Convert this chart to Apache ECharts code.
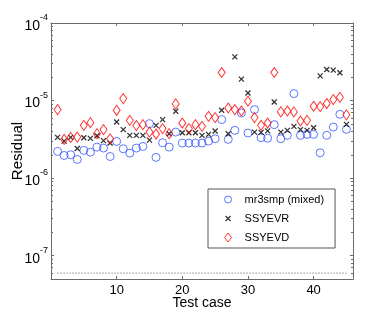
<!DOCTYPE html>
<html><head><meta charset="utf-8">
<script src="https://cdn.jsdelivr.net/npm/echarts@6/dist/echarts.min.js"></script>
<style>html,body{margin:0;padding:0;background:#fff}#c{width:390px;height:314px}</style>
</head><body><div id="c"></div>
<script>
const testCases = [1,2,3,4,5,6,7,8,9,10,11,12,13,14,15,16,17,18,19,20,21,22,23,24,25,26,27,28,29,30,31,32,33,34,35,36,37,38,39,40,41,42,43,44,45];
const mr3smp = [2.21e-6,1.96e-6,2.00e-6,1.74e-6,2.28e-6,2.16e-6,2.51e-6,2.44e-6,1.90e-6,2.97e-6,
  2.39e-6,2.10e-6,2.44e-6,2.56e-6,5.04e-6,1.85e-6,2.86e-6,2.51e-6,3.92e-6,2.83e-6,
  2.83e-6,2.83e-6,2.83e-6,3.00e-6,3.22e-6,5.68e-6,3.16e-6,4.13e-6,6.91e-6,3.81e-6,
  7.65e-6,3.32e-6,3.27e-6,4.89e-6,3.22e-6,3.56e-6,1.23e-5,3.56e-6,3.66e-6,3.66e-6,
  2.12e-6,3.56e-6,4.55e-6,6.65e-6,4.25e-6];
const ssyevr = [3.35e-6,3.00e-6,3.35e-6,2.41e-6,3.31e-6,3.25e-6,3.51e-6,3.04e-6,2.83e-6,5.29e-6,
  4.22e-6,3.56e-6,3.56e-6,3.56e-6,3.09e-6,4.79e-6,5.68e-6,3.74e-6,7.27e-6,3.85e-6,
  3.85e-6,3.85e-6,3.56e-6,3.66e-6,4.04e-6,7.49e-6,3.74e-6,3.66e-5,1.89e-5,1.25e-5,
  3.92e-6,3.89e-6,4.06e-6,9.59e-6,3.92e-6,4.13e-6,4.65e-6,4.22e-6,4.13e-6,4.47e-6,
  2.08e-5,2.52e-5,2.47e-5,2.28e-5,4.93e-6];
const ssyevd = [7.65e-6,3.16e-6,3.35e-6,3.38e-6,4.79e-6,5.19e-6,3.74e-6,4.22e-6,3.21e-6,7.49e-6,
  1.06e-5,5.56e-6,4.75e-6,4.89e-6,3.92e-6,3.70e-6,4.35e-6,3.74e-6,9.04e-6,5.13e-6,
  4.35e-6,4.89e-6,4.65e-6,6.26e-6,6.03e-6,2.30e-5,8.02e-6,7.65e-6,7.33e-6,9.79e-6,
  6.03e-6,4.79e-6,5.13e-6,2.30e-5,7.13e-6,7.33e-6,7.13e-6,5.45e-6,5.56e-6,8.44e-6,
  8.36e-6,9.15e-6,1.03e-5,1.10e-5,6.55e-6];
const epsLevel = 5.96e-8;
const epsRange = [1, 45];
const xTicks = [10, 20, 30, 40];
const yMajor = [1e-7, 1e-6, 1e-5, 1e-4];
const yMinor = [5e-8,6e-8,7e-8,8e-8,9e-8,
  2e-7,3e-7,4e-7,5e-7,6e-7,7e-7,8e-7,9e-7,
  2e-6,3e-6,4e-6,5e-6,6e-6,7e-6,8e-6,9e-6,
  2e-5,3e-5,4e-5,5e-5,6e-5,7e-5,8e-5,9e-5];
const seriesNames = ['mr3smp (mixed)', 'SSYEVR', 'SSYEVD'];

const FONT = "'Liberation Sans', Arial, Helvetica, sans-serif";
const AX = '#6a6a6a';
const CROSS = 'path://M0,0L10,10M10,0L0,10';
const CROSS_LEGEND = 'path://M0,0M7,9M1,2L6,7M6,2L1,7';
const chart = echarts.init(document.getElementById('c'), null, {renderer: 'canvas'});
const pts = arr => testCases.map((x, i) => [x, arr[i]]);

function yAx(position, ticks, len, showLine, showLabel) {
  return {
    type: 'log', logBase: 10, min: 5e-8, max: 1e-4, position: position,
    gridIndex: 0,
    axisLine: {show: showLine, lineStyle: {color: AX, width: 1}},
    axisTick: {show: true, inside: true, length: len, customValues: ticks, lineStyle: {color: AX, width: 1}},
    axisLabel: showLabel ? {
      show: true, customValues: ticks, margin: 3, fontFamily: FONT,
      formatter: function (v) { const e = Math.round(Math.log10(v)); return '{b|10}{s|' + e + '}'; },
      rich: {
        b: {fontSize: 14, lineHeight: 20, verticalAlign: 'bottom', color: '#000', fontFamily: FONT},
        s: {fontSize: 9, lineHeight: 9, verticalAlign: 'top', color: '#000', fontFamily: FONT}
      }
    } : {show: false},
    splitLine: {show: false}, minorTick: {show: false}, minorSplitLine: {show: false}
  };
}

const option = {
  backgroundColor: '#fff',
  animation: false,
  grid: {left: 51, right: 37, top: 23, bottom: 35, outerBoundsMode: 'none', containLabel: false},
  xAxis: [
    {
      type: 'value', min: 0, max: 46, position: 'bottom',
      name: 'Test case', nameLocation: 'middle', nameGap: 17, nameMoveOverlap: false,
      nameTextStyle: {fontSize: 14, color: '#000', fontFamily: FONT},
      axisLine: {show: true, lineStyle: {color: AX, width: 1}},
      axisTick: {show: true, inside: true, length: 3, customValues: xTicks, lineStyle: {color: AX}},
      axisLabel: {show: true, customValues: xTicks, margin: 5, fontSize: 13, color: '#000', fontFamily: FONT},
      splitLine: {show: false}
    },
    {
      type: 'value', min: 0, max: 46, position: 'top',
      axisLine: {show: true, lineStyle: {color: AX, width: 1}},
      axisTick: {show: true, inside: true, length: 3, customValues: xTicks, lineStyle: {color: AX}},
      axisLabel: {show: false},
      splitLine: {show: false}
    }
  ],
  yAxis: [
    Object.assign(yAx('left', yMajor, 3, true, true), {
      name: 'Residual', nameLocation: 'middle', nameGap: 26, nameMoveOverlap: false,
      nameTextStyle: {fontSize: 15, color: '#000', fontFamily: FONT}
    }),
    yAx('left', yMinor, 2, false, false),
    yAx('right', yMajor, 3, true, false),
    yAx('right', yMinor, 2, false, false)
  ],
  legend: {
    orient: 'vertical', left: 208, top: 189,
    itemWidth: 7, itemHeight: 9, itemGap: 8,
    padding: [5, 11, 5, 16],
    borderColor: '#555', borderWidth: 1, borderRadius: 0, backgroundColor: '#fff',
    textStyle: {fontSize: 11, color: '#000', fontFamily: FONT, padding: [0, 0, 0, 8]},
    itemStyle: {borderWidth: 1},
    data: [
      {name: seriesNames[0]},
      {name: seriesNames[1], icon: CROSS_LEGEND, itemStyle: {borderWidth: 1.2}},
      {name: seriesNames[2]}
    ]
  },
  series: [
    {
      name: seriesNames[0], type: 'scatter', xAxisIndex: 0, yAxisIndex: 0,
      symbol: 'circle', symbolSize: 8,
      itemStyle: {color: 'transparent', borderColor: '#3355ff', borderWidth: 1},
      data: pts(mr3smp)
    },
    {
      name: seriesNames[1], type: 'scatter', xAxisIndex: 0, yAxisIndex: 0,
      symbol: CROSS, symbolSize: 5,
      itemStyle: {color: 'transparent', borderColor: '#000', borderWidth: 1.3},
      data: pts(ssyevr)
    },
    {
      name: seriesNames[2], type: 'scatter', xAxisIndex: 0, yAxisIndex: 0,
      symbol: 'diamond', symbolSize: [7, 10],
      itemStyle: {color: 'transparent', borderColor: '#ff0000', borderWidth: 1},
      data: pts(ssyevd)
    },
    {
      name: 'eps', type: 'line', xAxisIndex: 0, yAxisIndex: 0, silent: true,
      symbol: 'none', lineStyle: {color: '#555', width: 1, type: [1, 2]},
      data: epsRange.map(x => [x, epsLevel])
    }
  ]
};
chart.setOption(option);
</script>
</body></html>
